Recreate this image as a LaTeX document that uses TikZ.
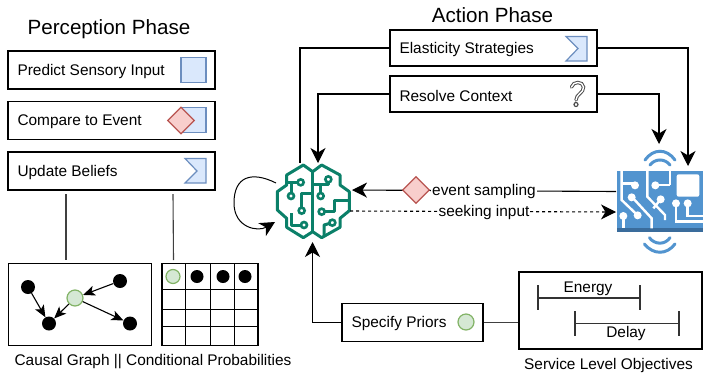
\documentclass[tikz,border=0pt]{standalone}
\usepackage{fontspec}
\setmainfont{Liberation Sans}
\usetikzlibrary{positioning,arrows.meta,shapes.geometric}
\definecolor{fillblue}{HTML}{DAE8FC}
\definecolor{lineblue}{HTML}{6C8EBF}
\definecolor{fillred}{HTML}{F8CECC}
\definecolor{linered}{HTML}{B85450}
\definecolor{fillgreen}{HTML}{D5E8D4}
\definecolor{linegreen}{HTML}{82B366}
\definecolor{brainteal}{HTML}{0B8069}
\definecolor{chipblue}{HTML}{5294CF}
\definecolor{chipdark}{HTML}{3A6C9C}
\tikzset{
  phasebox/.style={draw, line width=1.3pt, minimum height=38pt, inner sep=0pt},
  framebox/.style={draw, line width=1.2pt, inner sep=0pt},
  lbl/.style={font=\fontsize{15.4}{18}\selectfont, inner sep=0pt, yshift=-1.5pt},
  title/.style={font=\fontsize{20.6}{24}\selectfont, inner sep=0pt, yshift=-1pt},
  bigtip/.style={-{Stealth[length=15pt,width=15pt,inset=4.5pt]}, line width=1.1pt},
  smalltip/.style={-{Stealth[length=12pt,width=10pt,inset=3pt]}, line width=1.1pt},
  conn/.style={line width=1.1pt, draw=black!75},
  blacksq/.style={rectangle, draw=lineblue, fill=fillblue, line width=1.2pt, minimum size=25pt, inner sep=0pt},
  reddia/.style={diamond, draw=linered, fill=fillred, line width=1.2pt, minimum size=27pt, inner sep=0pt},
  greendot/.style={circle, draw=linegreen, fill=fillgreen, line width=1.2pt, inner sep=0pt},
  blackdot/.style={circle, fill=black, inner sep=0pt},
  chev/.style={draw=lineblue, fill=fillblue, line width=1.2pt, line join=miter},
  trace/.style={draw=white, line width=2.4pt},
  wifi/.style={draw=chipblue, line width=3pt, line cap=round},
  neuro/.style={draw=brainteal, line width=3pt, line join=round},
  pad/.style={draw=brainteal, fill=white, line width=2.6pt},
}
\begin{document}
\begin{tikzpicture}[x=1pt,y=-1pt]
\useasboundingbox (0,0) rectangle (718,376);
\node[title] (titleP) at (109,28.5) {Perception Phase};
\node[title] (titleA) at (492.5,14.5) {Action Phase};
\node[phasebox, minimum width=207pt] (box0) at (111.5,70) {};
\node[phasebox, minimum width=207pt] (box1) at (111.5,120.5) {};
\node[phasebox, minimum width=207pt] (box2) at (111.5,171) {};
\node[lbl, right=10pt of box0.west] (txt0) {Predict Sensory Input};
\node[lbl, right=10pt of box1.west] (txt1) {Compare to Event};
\node[lbl, right=10pt of box2.west] (txt2) {Update Beliefs};
\node[blacksq] (sq0) at (193.5,70) {};
\node[blacksq] (sq1) at (193.5,120) {};
\node[reddia] (dia0) at (181,120.5) {};
\draw[chev] (185,158.5) -- (206,158.5) -- (206,183) -- (185,183) -- (197,171) -- cycle;
% causal graph and table
\node[framebox, minimum width=143pt, minimum height=82pt] (graph) at (80,304.5) {};
\node[framebox, minimum width=96pt, minimum height=82pt] (table) at (210,304.5) {};
\coordinate (up0) at (66,194);
\coordinate (dn0) at (66,260);
\coordinate (up1) at (173,194);
\coordinate (dn1) at (173.5,260);
\draw[conn] (up0) -- (dn0);
\draw[conn] (up1) -- (dn1);
\foreach \xx in {185,210,234.5}
  \draw[line width=1pt] (\xx,264) -- (\xx,345);
\draw[line width=1pt] (162,289.5) -- (258,289.5);
\draw[line width=1pt] (162,309) -- (258,309);
\draw[line width=1pt] (162,326) -- (258,326);
\node[greendot, minimum size=14pt] (cell0) at (173,276.5) {};
\node[blackdot, minimum size=13pt] (cell1) at (197,276.5) {};
\node[blackdot, minimum size=13pt] (cell2) at (223,276.5) {};
\node[blackdot, minimum size=13pt] (cell3) at (245,276.5) {};
\node[blackdot, minimum size=14pt] (g0) at (28,287) {};
\node[blackdot, minimum size=14pt] (g1) at (120,281) {};
\node[blackdot, minimum size=14pt] (g2) at (49,323.5) {};
\node[blackdot, minimum size=14pt] (g3) at (130,323.5) {};
\node[greendot, minimum size=16pt] (g4) at (75,298) {};
\draw[smalltip] (g0) -- (g2);
\draw[smalltip] (g1) -- (g4);
\draw[smalltip] (g4) -- (g2);
\draw[smalltip] (g4) -- (g3);
\node[lbl] (capG) at (153,360) {Causal Graph || Conditional Probabilities};
% action boxes
\node[phasebox, minimum width=207pt, minimum height=36pt] (box3) at (493.5,48) {};
\node[phasebox, minimum width=207pt, minimum height=36pt] (box4) at (493.5,94) {};
\node[lbl, right=10pt of box3.west] (txt3) {Elasticity Strategies};
\node[lbl, right=10pt of box4.west] (txt4) {Resolve Context};
\draw[chev] (566,36.5) -- (587,36.5) -- (587,61) -- (566,61) -- (578,48.5) -- cycle;
\draw[line width=3.4pt, draw=black!70, line cap=round, postaction={draw=white, line width=1.4pt}]
  (571.5,87) .. controls (573,81) and (583,81) .. (583.5,87) .. controls (584,93) and (576,94) .. (576,100);
\draw[line width=1.2pt, draw=black!70, fill=white] (576,104.5) circle (2pt);
% priors and objectives
\node[phasebox, minimum width=141pt] (box5) at (412.5,322.5) {};
\node[lbl, right=10pt of box5.west] (txt5) {Specify Priors};
\node[greendot, minimum size=16pt] (dot5) at (466,322) {};
\node[framebox, minimum width=183pt, minimum height=77pt] (slo) at (610.5,310.5) {};
\draw[conn] (box5.east) -- (box5.east -| slo.west);
\node[lbl] (capS) at (608.5,364) {Service Level Objectives};
\node[lbl] (energy) at (588,287) {Energy};
\node[lbl] (delay) at (626,332) {Delay};
\draw[line width=1.2pt, draw=black!80] (538,298) -- (640,298);
\draw[line width=1.2pt, draw=black!80] (538,285) -- (538,310);
\draw[line width=1.2pt, draw=black!80] (640,285) -- (640,310);
\draw[line width=1.2pt, draw=black!80] (575,323.5) -- (679,323.5);
\draw[line width=1.2pt, draw=black!80] (575,311) -- (575,336);
\draw[line width=1.2pt, draw=black!80] (679,311) -- (679,336);
% brain
\begin{scope}[shift={(220,140)},scale=1/3]
\draw[neuro] (278,95) -- (250,75) -- (200,105) -- (200,135) -- (172,155) -- (172,210) -- (200,235) -- (200,262) -- (250,293) -- (278,275) -- (305,293) -- (360,262) -- (360,235) -- (388,212) -- (388,155) -- (360,135) -- (360,105) -- (305,75) -- cycle;
\draw[neuro] (278,95) -- (278,275);
\draw[neuro] (200,127) -- (242,127);
\draw[neuro] (213,127) -- (213,168);
\draw[neuro] (278,160) -- (245,160) -- (245,212);
\draw[neuro] (213,220) -- (213,255) -- (252,255);
\draw[neuro] (278,132) -- (325,132) -- (325,118);
\draw[neuro] (302,132) -- (302,168);
\draw[neuro] (305,215) -- (342,215) -- (342,182) -- (388,182);
\draw[neuro] (312,290) -- (312,255) -- (337,248);
\foreach \px/\py in {242/127,213/168,245/212,252/255,325/118,302/168,305/215,337/248}
  \draw[pad] (\px,\py) circle (9);
\end{scope}
% chip
\begin{scope}[shift={(590,140)},scale=1/3]
\fill[chipblue] (80,92) rectangle (338,265);
\fill[chipdark] (80,265) rectangle (338,275);
\fill[white, rounded corners=2pt] (260,103) rectangle (328,170);
\draw[trace] (95,92) -- (95,180) -- (143,226);
\draw[trace] (95,130) -- (135,130);
\draw[trace] (125,170) -- (185,235) -- (185,265);
\draw[trace] (100,228) -- (100,265);
\draw[trace] (172,92) -- (172,170) -- (225,225) -- (225,240);
\draw[trace] (196,135) -- (240,135);
\draw[trace] (240,92) -- (240,135);
\draw[trace] (212,178) -- (190,205);
\draw[trace] (258,190) -- (258,245) -- (338,245);
\draw[trace] (293,190) -- (293,228) -- (338,228);
\foreach \px/\py in {135/136,125/172,143/226,100/228,196/136,212/178,258/190,293/190}
  \fill[white] (\px,\py) circle (12);
\draw[wifi] (165,60) .. controls (190,25) and (230,25) .. (255,60);
\draw[wifi] (180,75) .. controls (195,55) and (225,55) .. (240,75);
\draw[wifi] (163,312) .. controls (190,345) and (230,345) .. (255,312);
\draw[wifi] (178,293) .. controls (195,315) and (225,315) .. (240,293);
\end{scope}
% connectors
\coordinate (bTop0) at (300,163);
\coordinate (bTop1) at (318,163);
\coordinate (bLow) at (312.5,242);
\coordinate (bLoop0) at (276,183);
\coordinate (bLoop1) at (275,222);
\coordinate (bEv) at (352,190);
\coordinate (bSeek) at (350,211);
\coordinate (cTop0) at (659,144);
\coordinate (cTop1) at (688,166);
\coordinate (cEv) at (616,191.5);
\coordinate (cSeek) at (616,212);
\draw[line width=1.1pt] (box3.west) -| (bTop0);
\draw[bigtip] (box4.west) -| (bTop1);
\draw[bigtip] (box3.east) -| (cTop1);
\draw[bigtip] (box4.east) -| (cTop0);
\draw[bigtip] (box5.west) -| (bLow);
\draw[bigtip, line width=1pt] (bLoop0) .. controls (252,171) and (234,176) .. (234,203) .. controls (234,228) and (258,232) .. (bLoop1);
\draw[bigtip] (cEv) -- (bEv);
\draw[bigtip, dashed] (bSeek) -- (cSeek);
\node[reddia, minimum size=27pt] (dia1) at (416,190) {};
\node[lbl, fill=white, inner xsep=1pt] (ev) at (484,190) {event sampling};
\node[lbl, fill=white, inner xsep=1pt] (seek) at (484,211) {seeking input};
\end{tikzpicture}
\end{document}
